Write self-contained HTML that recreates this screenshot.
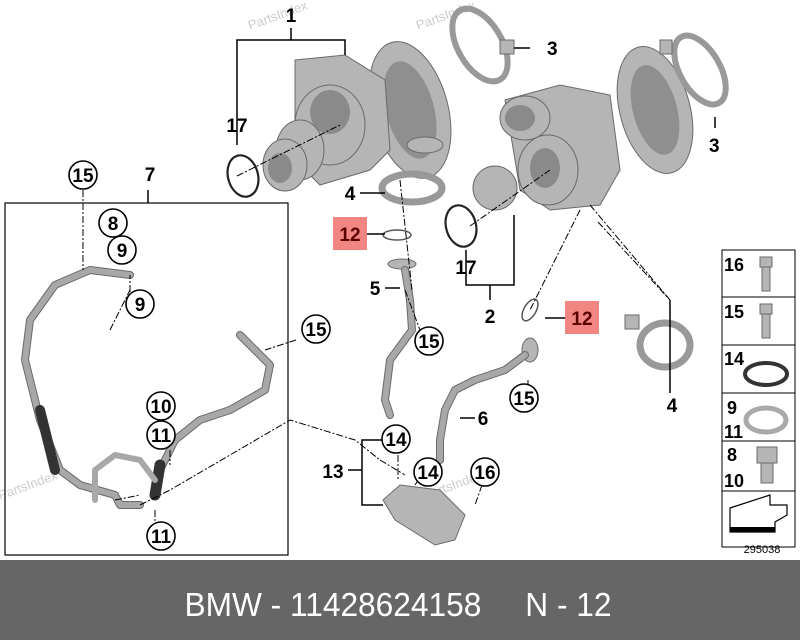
<!DOCTYPE html>
<html><head><meta charset="utf-8"><style>
html,body{margin:0;padding:0;background:#fff;}
svg{display:block}
.l{font-family:"Liberation Sans",sans-serif;font-weight:bold;font-size:19px;fill:#000}
.c{fill:#fff;stroke:#000;stroke-width:1.6}
.ln{stroke:#000;stroke-width:1.5;fill:none}
.d{stroke:#000;stroke-width:1;fill:none;stroke-dasharray:7 2 2 2}
.p{fill:#b5b5b5;stroke:#6a6a6a;stroke-width:1}
.t{fill:none;stroke:#a8a8a8;stroke-width:6;stroke-linecap:round;stroke-linejoin:round}
.to{fill:none;stroke:#6a6a6a;stroke-width:8;stroke-linecap:round;stroke-linejoin:round}
</style></head><body>
<svg width="800" height="640" viewBox="0 0 800 640" xmlns="http://www.w3.org/2000/svg">
<rect width="800" height="640" fill="#fff"/>
<text x="250" y="30" font-family="Liberation Sans" font-size="13" fill="#ccc" transform="rotate(-20 250 30)">PartsIndex</text>
<text x="418" y="30" font-family="Liberation Sans" font-size="13" fill="#ccc" transform="rotate(-20 418 30)">PartsIndex</text>
<text x="0" y="500" font-family="Liberation Sans" font-size="13" fill="#ccc" transform="rotate(-20 0 500)">PartsIndex</text>
<text x="425" y="500" font-family="Liberation Sans" font-size="13" fill="#ccc" transform="rotate(-20 425 500)">PartsIndex</text>

<ellipse cx="410" cy="110" rx="38" ry="70" class="p" transform="rotate(-15 410 110)"/>
<ellipse cx="410" cy="110" rx="24" ry="50" fill="#8f8f8f" transform="rotate(-15 410 110)"/>
<path d="M295 60 L345 55 L385 80 L390 150 L370 170 L320 185 L295 160 Z" class="p"/>
<ellipse cx="330" cy="125" rx="35" ry="40" class="p"/>
<ellipse cx="330" cy="112" rx="20" ry="22" fill="#8a8a8a"/>
<ellipse cx="300" cy="150" rx="24" ry="30" class="p"/>
<ellipse cx="285" cy="165" rx="22" ry="26" class="p"/>
<ellipse cx="280" cy="168" rx="12" ry="15" fill="#8a8a8a"/>
<ellipse cx="425" cy="145" rx="18" ry="8" class="p"/>
<ellipse cx="655" cy="110" rx="35" ry="65" class="p" transform="rotate(-15 655 110)"/>
<ellipse cx="655" cy="110" rx="22" ry="46" fill="#8f8f8f" transform="rotate(-15 655 110)"/>
<path d="M505 100 L560 85 L610 95 L620 170 L600 205 L550 210 L520 190 Z" class="p"/>
<ellipse cx="525" cy="118" rx="25" ry="22" class="p"/>
<ellipse cx="520" cy="118" rx="15" ry="13" fill="#8a8a8a"/>
<ellipse cx="548" cy="170" rx="30" ry="35" class="p"/>
<ellipse cx="545" cy="168" rx="15" ry="20" fill="#8a8a8a"/>
<ellipse cx="495" cy="188" rx="22" ry="22" class="p"/>
<ellipse cx="480" cy="45" rx="22" ry="40" fill="none" stroke="#999" stroke-width="6" transform="rotate(-30 480 45)"/>
<rect x="500" y="40" width="14" height="14" class="p"/>
<ellipse cx="700" cy="70" rx="20" ry="38" fill="none" stroke="#999" stroke-width="6" transform="rotate(-30 700 70)"/>
<rect x="660" y="40" width="12" height="14" class="p"/>
<ellipse cx="412" cy="188" rx="30" ry="14" fill="none" stroke="#999" stroke-width="7"/>
<ellipse cx="665" cy="345" rx="25" ry="22" fill="none" stroke="#999" stroke-width="7"/>
<rect x="625" y="315" width="14" height="14" class="p"/>
<ellipse cx="243" cy="176" rx="15" ry="21" fill="none" stroke="#222" stroke-width="2.2" transform="rotate(-15 243 176)"/>
<ellipse cx="461" cy="226" rx="15" ry="21" fill="none" stroke="#222" stroke-width="2.2" transform="rotate(-15 461 226)"/>
<ellipse cx="397" cy="235" rx="14" ry="5" fill="#fff" stroke="#555" stroke-width="1.5"/>
<ellipse cx="530" cy="310" rx="6" ry="12" fill="#fff" stroke="#555" stroke-width="1.5" transform="rotate(30 530 310)"/>
<ellipse cx="402" cy="264" rx="14" ry="5" class="p"/>
<path class="to" d="M405 270 L410 300 L412 330 L390 360 L385 400 L390 415"/>
<path class="t" d="M405 270 L410 300 L412 330 L390 360 L385 400 L390 415"/>
<ellipse cx="530" cy="350" rx="8" ry="12" class="p"/>
<path class="to" d="M525 355 L505 370 L475 380 L455 390 L445 410 L440 440 L440 460"/>
<path class="t" d="M525 355 L505 370 L475 380 L455 390 L445 410 L440 440 L440 460"/>
<path d="M383 500 L400 485 L440 490 L465 515 L455 540 L435 545 L395 520 Z" class="p"/>
<path class="to" d="M130 275 L90 270 L55 285 L30 320 L25 360 L40 420 L60 470 L80 485 L115 495 L120 505 L140 505"/>
<path class="t" d="M130 275 L90 270 L55 285 L30 320 L25 360 L40 420 L60 470 L80 485 L115 495 L120 505 L140 505"/>
<path d="M40 410 L55 470" stroke="#333" stroke-width="10" stroke-linecap="round"/>
<path class="to" d="M240 335 L255 350 L270 365 L265 390 L230 410 L200 420 L175 440 L160 470"/>
<path class="t" d="M240 335 L255 350 L270 365 L265 390 L230 410 L200 420 L175 440 L160 470"/>
<path d="M160 465 L155 495" stroke="#333" stroke-width="11" stroke-linecap="round"/>
<path class="t" d="M95 500 L95 470 L115 455 L140 460 L155 480" stroke-width="4"/>

<path class="ln" d="M237 145 L237 40 L345 40 L345 55 M291 40 L291 28"/>
<path class="ln" d="M514 48 L530 48 M715 117 L715 128"/>
<path class="ln" d="M360 193 L385 193 M367 234 L385 234 M385 288 L400 288 M466 250 L466 285 L514 285 L514 215 M490 285 L490 300 M565 318 L545 318 M460 418 L475 418"/>
<path class="ln" d="M362 470 L362 440 L385 440 M362 470 L348 470 M362 470 L362 505 L383 505"/>
<path class="ln" d="M148 203 L148 190"/>
<path class="d" d="M237 176 L340 125 M470 226 L550 170 M400 180 L412 290 M405 290 L420 330 M580 210 L530 310 M590 205 L670 300 M110 330 L130 290 M130 305 L130 275 M83 190 L83 270 M296 340 L265 350 M170 450 L170 465 M155 510 L155 525 M115 500 L140 495 M140 505 L170 490 L290 420 L355 440 L380 460 M398 455 L398 480 M415 485 L425 470 M482 485 L475 505 M440 475 L440 465 M528 380 L528 390 M380 460 L405 475"/>
<path class="ln" d="M670 300 L670 393"/>
<path class="d" d="M598 222 L670 300"/>

<rect x="5" y="203" width="283" height="352" fill="none" stroke="#000" stroke-width="1.2"/>

<rect x="333" y="217" width="34" height="33" fill="#f08582"/>
<rect x="565" y="301" width="34" height="33" fill="#f08582"/>
<text class="l" x="350" y="241" text-anchor="middle" style="fill:#5a0000">12</text>
<text class="l" x="582" y="325" text-anchor="middle" style="fill:#5a0000">12</text>

<text class="l" x="291" y="22" text-anchor="middle">1</text>
<text class="l" x="547" y="55">3</text>
<text class="l" x="709" y="152">3</text>
<text class="l" x="237" y="132" text-anchor="middle">17</text>
<text class="l" x="466" y="274" text-anchor="middle">17</text>
<text class="l" x="490" y="323" text-anchor="middle">2</text>
<text class="l" x="150" y="181" text-anchor="middle">7</text>
<text class="l" x="350" y="200" text-anchor="middle">4</text>
<text class="l" x="375" y="295" text-anchor="middle">5</text>
<text class="l" x="483" y="425" text-anchor="middle">6</text>
<text class="l" x="672" y="412" text-anchor="middle">4</text>
<text class="l" x="333" y="478" text-anchor="middle">13</text>

<g>
<circle class="c" cx="83" cy="175" r="14"/><text class="l" x="83" y="182" text-anchor="middle">15</text>
<circle class="c" cx="113" cy="223" r="14"/><text class="l" x="113" y="230" text-anchor="middle">8</text>
<circle class="c" cx="122" cy="250" r="14"/><text class="l" x="122" y="257" text-anchor="middle">9</text>
<circle class="c" cx="140" cy="304" r="14"/><text class="l" x="140" y="311" text-anchor="middle">9</text>
<circle class="c" cx="316" cy="329" r="14"/><text class="l" x="316" y="336" text-anchor="middle">15</text>
<circle class="c" cx="429" cy="341" r="14"/><text class="l" x="429" y="348" text-anchor="middle">15</text>
<circle class="c" cx="524" cy="398" r="14"/><text class="l" x="524" y="405" text-anchor="middle">15</text>
<circle class="c" cx="161" cy="406" r="14"/><text class="l" x="161" y="413" text-anchor="middle">10</text>
<circle class="c" cx="161" cy="435" r="14"/><text class="l" x="161" y="442" text-anchor="middle">11</text>
<circle class="c" cx="161" cy="536" r="14"/><text class="l" x="161" y="543" text-anchor="middle">11</text>
<circle class="c" cx="396" cy="439" r="14"/><text class="l" x="396" y="446" text-anchor="middle">14</text>
<circle class="c" cx="428" cy="472" r="14"/><text class="l" x="428" y="479" text-anchor="middle">14</text>
<circle class="c" cx="485" cy="472" r="14"/><text class="l" x="485" y="479" text-anchor="middle">16</text>
</g>

<g stroke="#000" stroke-width="1" fill="none">
<rect x="722" y="250" width="73" height="297"/>
<line x1="722" y1="297" x2="795" y2="297"/>
<line x1="722" y1="345" x2="795" y2="345"/>
<line x1="722" y1="393" x2="795" y2="393"/>
<line x1="722" y1="441" x2="795" y2="441"/>
<line x1="722" y1="491" x2="795" y2="491"/>
</g>
<text class="l" x="724" y="271" style="font-size:18px">16</text>
<text class="l" x="724" y="318" style="font-size:18px">15</text>
<text class="l" x="724" y="365" style="font-size:18px">14</text>
<text class="l" x="727" y="414" style="font-size:18px">9</text>
<text class="l" x="724" y="438" style="font-size:18px">11</text>
<text class="l" x="727" y="461" style="font-size:18px">8</text>
<text class="l" x="724" y="487" style="font-size:18px">10</text>
<rect x="760" y="257" width="12" height="10" class="p"/><rect x="762" y="267" width="8" height="24" class="p"/>
<rect x="760" y="304" width="12" height="10" class="p"/><rect x="762" y="314" width="8" height="24" class="p"/>
<ellipse cx="766" cy="374" rx="21" ry="11" fill="none" stroke="#333" stroke-width="4"/>
<ellipse cx="766" cy="420" rx="20" ry="12" fill="none" stroke="#aaa" stroke-width="5"/>
<rect x="757" y="447" width="20" height="16" class="p"/><rect x="761" y="463" width="12" height="20" class="p"/>
<path d="M730 508 L770 495 L770 505 L787 505 L787 515 L775 522 L775 532 L730 532 Z" fill="#fff" stroke="#000" stroke-width="1.2"/>
<path d="M730 527 L775 527 L775 532 L730 532 Z" fill="#000"/>
<text x="762" y="553" font-family="Liberation Sans" font-size="11" text-anchor="middle" fill="#000">295038</text>

<rect x="0" y="560" width="800" height="80" fill="#666"/>
<text x="398" y="616" font-family="Liberation Sans" font-size="33" fill="#fff" text-anchor="middle" transform="translate(398 0) scale(0.96 1) translate(-398 0)" xml:space="preserve">BMW - 11428624158     N - 12</text>
</svg>
</body></html>
